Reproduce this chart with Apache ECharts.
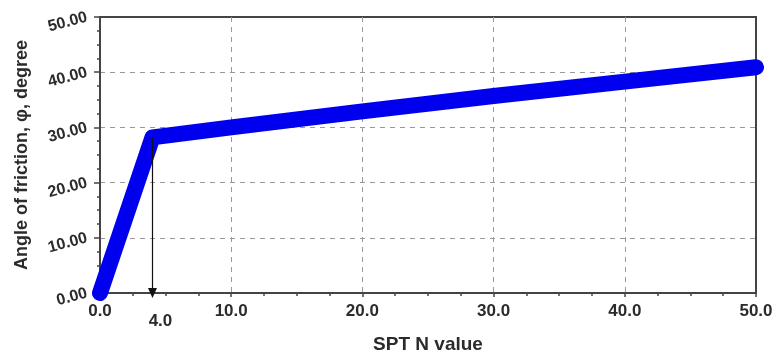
<!DOCTYPE html>
<html>
<head>
<meta charset="utf-8">
<script src="https://cdn.jsdelivr.net/npm/echarts@6/dist/echarts.min.js"></script>
<style>
  html, body { margin: 0; padding: 0; background: #fff; }
  #chart { width: 776px; height: 356px; }
</style>
</head>
<body>
<div id="chart"></div>
<script>
// SPT N value vs. angle of internal friction
const nValues = [0, 4, 10, 20, 30, 40, 50];
const frictionAngles = [0, 28.2, 30.0, 32.9, 35.7, 38.3, 40.9];

// Break point marked with a drop arrow to the N axis
const breakN = 4.0;
const breakAngle = 28.2;
const breakLabel = '4.0';

const xTitle = 'SPT N value';
const yTitle = 'Angle of friction, \u03c6, degree';

const FONT = '"Liberation Sans", Arial, Helvetica, sans-serif';
const AXIS_COLOR = '#444';
const TEXT_COLOR = '#2b2b2b';

const chart = echarts.init(document.getElementById('chart'), null, { renderer: 'canvas' });

chart.setOption({
  animation: false,
  backgroundColor: '#fff',
  grid: {
    left: 100, right: 20, top: 17, bottom: 63,
    containLabel: false,
    outerBoundsMode: 'none',
    show: true,
    borderColor: AXIS_COLOR,
    borderWidth: 2,
    backgroundColor: 'transparent'
  },
  xAxis: {
    type: 'value',
    min: 0, max: 50, interval: 10,
    name: xTitle,
    nameLocation: 'middle',
    nameGap: 42,
    nameTextStyle: { fontFamily: FONT, fontWeight: 'bold', fontSize: 19, color: TEXT_COLOR },
    axisLine: { show: true, lineStyle: { color: AXIS_COLOR, width: 2 } },
    axisTick: { show: true, length: 4, lineStyle: { color: AXIS_COLOR, width: 1.5 } },
    minorTick: { show: true, splitNumber: 4, length: 3, lineStyle: { color: AXIS_COLOR, width: 1.5 } },
    axisLabel: {
      margin: 10,
      fontFamily: FONT, fontWeight: 'bold', fontSize: 17, color: TEXT_COLOR,
      formatter: v => v.toFixed(1)
    },
    splitLine: {
      show: true, showMinLine: false, showMaxLine: false,
      lineStyle: { color: '#999', type: [5, 5], width: 1 }
    }
  },
  yAxis: {
    type: 'value',
    min: 0, max: 50, interval: 10,
    name: yTitle,
    nameLocation: 'middle',
    nameGap: 69,
    nameRotate: 90,
    nameTextStyle: { fontFamily: FONT, fontWeight: 'bold', fontSize: 18, color: TEXT_COLOR },
    axisLine: { show: true, lineStyle: { color: AXIS_COLOR, width: 2 } },
    axisTick: { show: true, length: 6, lineStyle: { color: AXIS_COLOR, width: 1.5 } },
    minorTick: { show: true, splitNumber: 4, length: 3, lineStyle: { color: AXIS_COLOR, width: 1.5 } },
    axisLabel: {
      margin: 13,
      rotate: 15,
      fontFamily: FONT, fontWeight: 'bold', fontSize: 16, color: TEXT_COLOR,
      formatter: v => v.toFixed(2)
    },
    splitLine: {
      show: true, showMinLine: false, showMaxLine: false,
      lineStyle: { color: '#999', type: [5, 5], width: 1 }
    }
  },
  series: [
    {
      type: 'line',
      data: nValues.map((n, i) => [n, frictionAngles[i]]),
      showSymbol: false,
      clip: false,
      z: 3,
      lineStyle: { color: '#0000ee', width: 16, cap: 'round', join: 'round' },
      markLine: {
        silent: true,
        symbol: ['none', 'triangle'],
        symbolSize: [9, 10],
        symbolRotate: 180,
        lineStyle: { color: '#111', width: 1.2, type: 'solid' },
        label: {
          show: true,
          position: 'end',
          distance: 20,
          padding: [0, 0, 0, 16],
          formatter: breakLabel,
          fontFamily: FONT, fontWeight: 'bold', fontSize: 17, color: TEXT_COLOR
        },
        data: [[
          { coord: [breakN, breakAngle] },
          { coord: [breakN, 0] }
        ]]
      }
    }
  ]
});
</script>
</body>
</html>
